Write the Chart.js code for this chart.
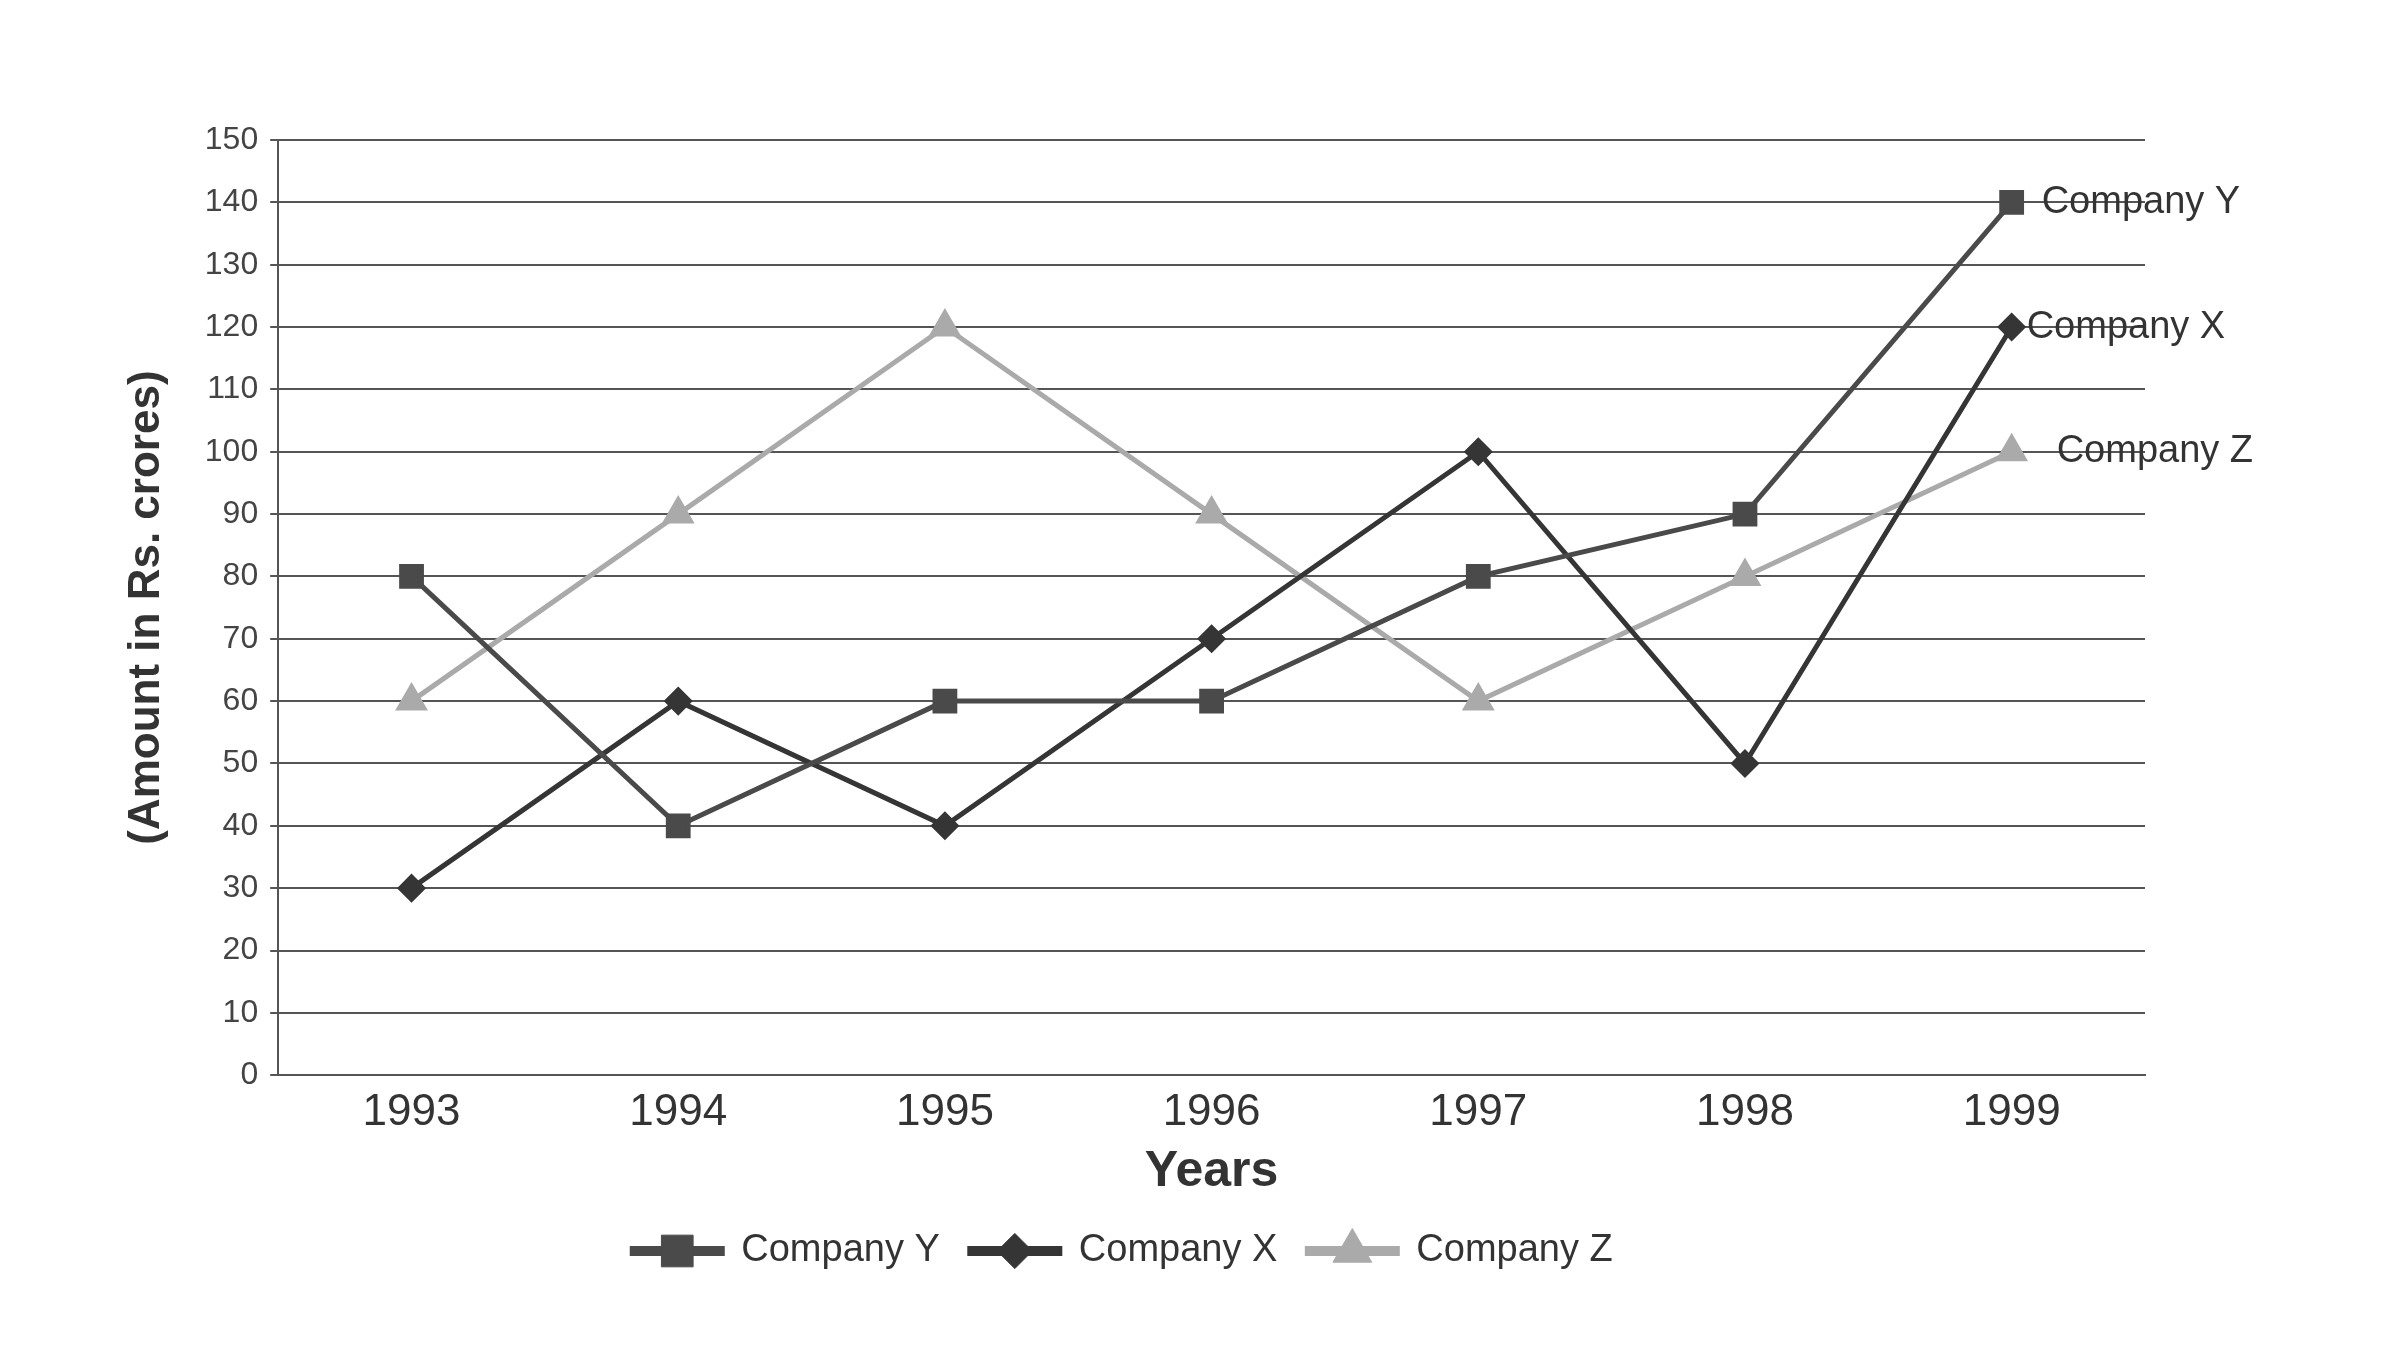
<!DOCTYPE html>
<html>
<head>
<meta charset="utf-8">
<script src="https://cdn.jsdelivr.net/npm/chart.js@4"></script>
<style>
  html, body { margin: 0; background: #fff; }
  #wrap { width: 2400px; height: 1350px; }
</style>
</head>
<body>
<div id="wrap"><canvas id="c"></canvas></div>
<script>
const years = ['1993', '1994', '1995', '1996', '1997', '1998', '1999'];
const companyY = [80, 40, 60, 60, 80, 90, 140];
const companyX = [30, 60, 40, 70, 100, 50, 120];
const companyZ = [60, 90, 120, 90, 60, 80, 100];

// names written beside the last point of each line
const endLabels = {
  id: 'endLabels',
  afterDatasetsDraw(chart) {
    const ctx = chart.ctx;
    ctx.save();
    ctx.font = '38px "Liberation Sans", Arial, sans-serif';
    ctx.fillStyle = '#333';
    ctx.textBaseline = 'middle';
    chart.data.datasets.forEach((ds, i) => {
      const pts = chart.getDatasetMeta(i).data;
      const p = pts[pts.length - 1];
      const dx = [30, 15, 45][i];
      ctx.fillText(ds.label, p.x + dx, p.y);
    });
    ctx.restore();
  }
};

// put each series marker in the middle of its legend line
const legendMarkers = {
  id: 'legendMarkers',
  afterDraw(chart) {
    const lg = chart.legend;
    if (!lg || !lg.legendHitBoxes) return;
    const ctx = chart.ctx;
    lg.legendHitBoxes.forEach((b, i) => {
      const ds = chart.data.datasets[i];
      ctx.save();
      ctx.fillStyle = ds.borderColor;
      ctx.strokeStyle = ds.borderColor;
      Chart.helpers.drawPoint(ctx, { pointStyle: ds.pointStyle, radius: ds.pointRadius * 1.6, borderWidth: 1 },
        b.left + 45, b.top + b.height / 2);
      ctx.restore();
    });
  }
};

const ds = (label, data, color, style, r) => ({
  label, data, borderColor: color, backgroundColor: color,
  borderWidth: 5, pointStyle: style, pointRadius: r, pointHoverRadius: r, tension: 0
});

new Chart(document.getElementById('c'), {
  type: 'line',
  data: {
    labels: years,
    datasets: [
      ds('Company Y', companyY, '#4a4a4a', 'rect', 14),
      ds('Company X', companyX, '#353535', 'rectRot', 11),
      ds('Company Z', companyZ, '#aaaaaa', 'triangle', 14),
    ]
  },
  options: {
    responsive: true, maintainAspectRatio: false, animation: false,
    layout: { padding: { top: 140, right: 255, left: 100, bottom: 70 } },
    plugins: {
      legend: {
        position: 'bottom',
        labels: { font: { size: 38, family: '"Liberation Sans", Arial' }, color: '#333', boxWidth: 90, boxHeight: 5, padding: 30 }
      },
      tooltip: { enabled: false }
    },
    scales: {
      x: {
        offset: true,
        grid: { display: false, drawTicks: true },
        border: { color: '#555', width: 2 },
        ticks: { font: { size: 44, family: '"Liberation Sans", Arial' }, color: '#333' },
        title: { display: true, text: 'Years', font: { size: 50, weight: 'bold', family: '"Liberation Sans", Arial' }, color: '#333', padding: 0 }
      },
      y: {
        min: 0, max: 150,
        ticks: { stepSize: 10, font: { size: 32, family: '"Liberation Sans", Arial' }, color: '#444', padding: 12 },
        grid: { color: '#555', lineWidth: 2 },
        border: { color: '#555', width: 2 },
        title: { display: true, text: '(Amount in Rs. crores)', font: { size: 44, weight: 'bold', family: '"Liberation Sans", Arial' }, color: '#333', padding: 20 }
      }
    }
  },
  plugins: [endLabels, legendMarkers]
});
</script>
</body>
</html>
